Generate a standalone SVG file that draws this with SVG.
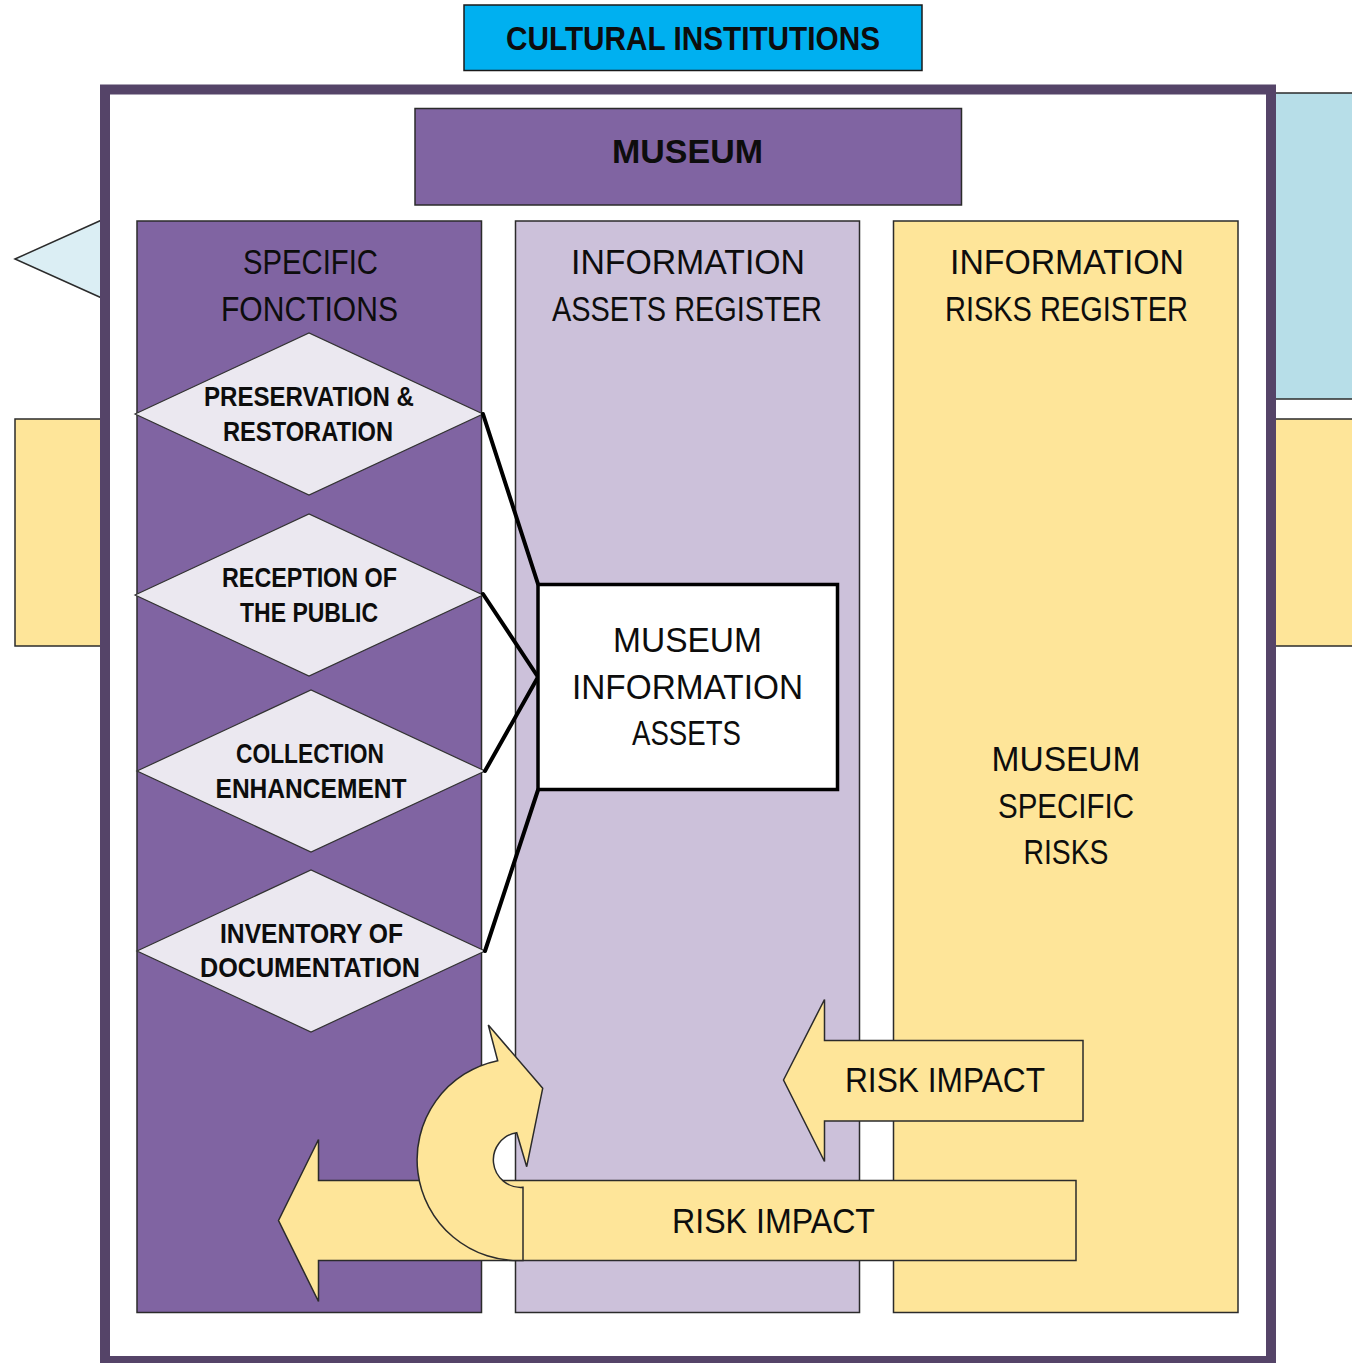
<svg xmlns="http://www.w3.org/2000/svg" width="1352" height="1363" viewBox="0 0 1352 1363">
<style>
.t{font-family:"Liberation Sans",Arial,sans-serif;font-size:35px;fill:#0d0d0d;text-anchor:middle}
.b{font-family:"Liberation Sans",Arial,sans-serif;font-weight:bold;fill:#0d0d0d;text-anchor:middle}
.d{font-size:27px}
.thin{stroke:#2b2b2b;stroke-width:1.5}
.yel{fill:#fee599;stroke:#2b2b2b;stroke-width:1.5}
.dia{fill:#ebe8f0;stroke:#333;stroke-width:1.2}
.conn{stroke:#000;stroke-width:4;fill:none;stroke-linecap:round}
</style>
<rect width="1352" height="1363" fill="#ffffff"/>
<g id="side-shapes">
<polygon points="15,259 104,219 104,299" fill="#dbeef4" stroke="#2b2b2b" stroke-width="1.5"/>
<rect x="15" y="419" width="95" height="227" class="yel"/>
<rect x="1265" y="93" width="100" height="306" fill="#b7dee8" stroke="#2b2b2b" stroke-width="1.5"/>
<rect x="1265" y="419" width="100" height="227" class="yel"/>
</g>
<g id="frame">
<rect x="105" y="89.5" width="1166" height="1271.5" fill="#ffffff" stroke="#554468" stroke-width="10"/>
</g>
<g id="cultural-institutions">
<rect x="464" y="5" width="458" height="65.5" fill="#00b0f0" stroke="#1a1a1a" stroke-width="1.5"/>
<text class="b" x="693" y="50" font-size="33" textLength="374" lengthAdjust="spacingAndGlyphs">CULTURAL INSTITUTIONS</text>
</g>
<g id="museum">
<rect x="415" y="108.5" width="546.5" height="96.5" fill="#8064a2" stroke="#2b2b2b" stroke-width="1.5"/>
<text class="b" x="687.5" y="163" font-size="34" textLength="151" lengthAdjust="spacingAndGlyphs">MUSEUM</text>
</g>
<g id="specific-fonctions">
<rect x="137" y="221" width="344.5" height="1091.5" fill="#8064a2" class="thin"/>
<text class="t" x="310.5" y="274" textLength="135" lengthAdjust="spacingAndGlyphs">SPECIFIC</text>
<text class="t" x="309.5" y="321" textLength="177" lengthAdjust="spacingAndGlyphs">FONCTIONS</text>
</g>
<g id="information-assets-register">
<rect x="515.5" y="221" width="344" height="1091.5" fill="#ccc1da" class="thin"/>
<text class="t" x="688" y="274" textLength="234" lengthAdjust="spacingAndGlyphs">INFORMATION</text>
<text class="t" x="687" y="321" textLength="270" lengthAdjust="spacingAndGlyphs">ASSETS REGISTER</text>
</g>
<g id="information-risks-register">
<rect x="893.5" y="221" width="344.5" height="1091.5" fill="#fee599" class="thin"/>
<text class="t" x="1067" y="274" textLength="234" lengthAdjust="spacingAndGlyphs">INFORMATION</text>
<text class="t" x="1066.5" y="321" textLength="243" lengthAdjust="spacingAndGlyphs">RISKS REGISTER</text>
<text class="t" x="1066" y="771" textLength="149" lengthAdjust="spacingAndGlyphs">MUSEUM</text>
<text class="t" x="1066" y="818" textLength="136" lengthAdjust="spacingAndGlyphs">SPECIFIC</text>
<text class="t" x="1066" y="864" textLength="85" lengthAdjust="spacingAndGlyphs">RISKS</text>
</g>
<g id="preservation-restoration">
<polygon points="135,414 309,333 483,414 309,495" class="dia"/>
<text class="b d" x="309" y="406" textLength="210" lengthAdjust="spacingAndGlyphs">PRESERVATION &amp;</text>
<text class="b d" x="308" y="441" textLength="170" lengthAdjust="spacingAndGlyphs">RESTORATION</text>
</g>
<g id="reception-public">
<polygon points="135,595 309,514 483,595 309,676" class="dia"/>
<text class="b d" x="309.5" y="587" textLength="175" lengthAdjust="spacingAndGlyphs">RECEPTION OF</text>
<text class="b d" x="309" y="622" textLength="138" lengthAdjust="spacingAndGlyphs">THE PUBLIC</text>
</g>
<g id="collection-enhancement">
<polygon points="137,771 311,690 485,771 311,852" class="dia"/>
<text class="b d" x="310" y="763" textLength="148" lengthAdjust="spacingAndGlyphs">COLLECTION</text>
<text class="b d" x="311" y="798" textLength="191" lengthAdjust="spacingAndGlyphs">ENHANCEMENT</text>
</g>
<g id="inventory-documentation">
<polygon points="137,951 311,870 485,951 311,1032" class="dia"/>
<text class="b d" x="311.5" y="943" textLength="183" lengthAdjust="spacingAndGlyphs">INVENTORY OF</text>
<text class="b d" x="310" y="977" textLength="220" lengthAdjust="spacingAndGlyphs">DOCUMENTATION</text>
</g>
<g id="connectors">
<line x1="483" y1="414" x2="538" y2="584" class="conn"/>
<line x1="483" y1="594" x2="538" y2="677" class="conn"/>
<line x1="485" y1="771" x2="538" y2="677" class="conn"/>
<line x1="485" y1="951" x2="538" y2="790" class="conn"/>
</g>
<g id="museum-information-assets">
<rect x="538" y="584.5" width="299.5" height="205" fill="#ffffff" stroke="#000" stroke-width="3.5"/>
<text class="t" x="687.5" y="652" textLength="149" lengthAdjust="spacingAndGlyphs">MUSEUM</text>
<text class="t" x="687.5" y="699" textLength="231" lengthAdjust="spacingAndGlyphs">INFORMATION</text>
<text class="t" x="686.5" y="745" textLength="109" lengthAdjust="spacingAndGlyphs">ASSETS</text>
</g>
<g id="risk-impact-upper">
<polygon points="783.5,1080 824.5,999.5 824.5,1040.5 1083,1040.5 1083,1121 824.5,1121 824.5,1161.5" class="yel"/>
<text class="t" x="945" y="1092" textLength="200" lengthAdjust="spacingAndGlyphs">RISK IMPACT</text>
</g>
<g id="risk-impact-lower">
<polygon points="278.5,1220.5 318.5,1139.5 318.5,1180.5 1076,1180.5 1076,1260.5 318.5,1260.5 318.5,1301.5" class="yel"/>
<text class="t" x="773.5" y="1233" textLength="203" lengthAdjust="spacingAndGlyphs">RISK IMPACT</text>
</g>
<g id="circular-arrow">
<path d="M523,1260.5 A101,101 0 0 1 497.7,1060.7 L488.3,1025 L542.7,1088.3 L526.7,1166.7 L516.7,1132.7 A27.5,27.5 0 0 0 523,1187.3 Z" class="yel"/>
</g>
</svg>
